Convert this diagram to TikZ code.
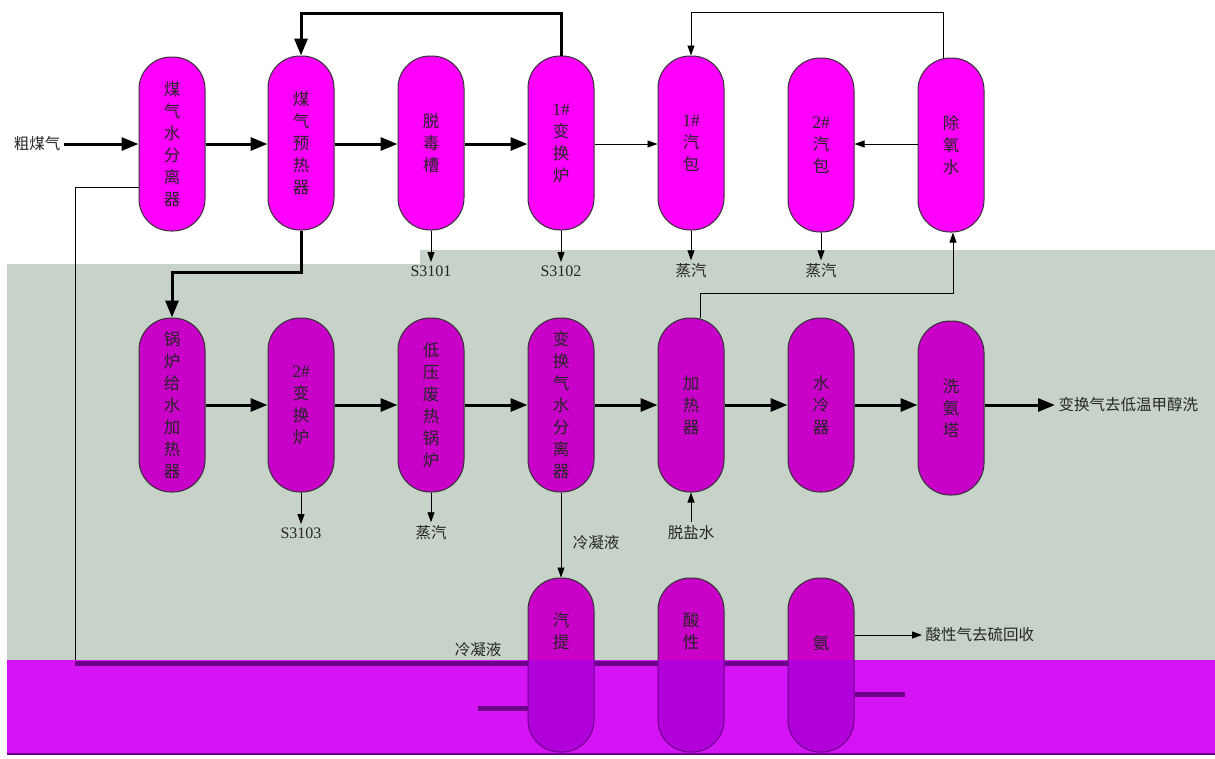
\documentclass[tikz,border=0pt]{standalone}
\usepackage{xcolor}
\usepackage{fontspec}
\setmainfont{Liberation Serif}
\newfontfamily\cjk{Noto Sans CJK SC}
\usepackage{tikz}
\usetikzlibrary{arrows.meta}
\usetikzlibrary{positioning}

\definecolor{hotpink}{HTML}{FF00FF}
\definecolor{deeppink}{HTML}{C800C8}
\definecolor{bandgray}{HTML}{C7D2C8}
\definecolor{bandmag}{HTML}{D414F4}
\definecolor{lowpink}{HTML}{B200DA}
\definecolor{bandline}{HTML}{6C008C}

\newcommand{\nohash}[1]{{\fontsize{17.5}{22}\selectfont\rmfamily #1\#}}

\tikzset{
	vessel/.style={draw=black!80, line width=1pt, rounded corners=32pt, minimum width=66pt, minimum height=174pt, inner sep=0pt, align=center, text=black!85, font=\cjk\fontsize{16.5}{22}\selectfont},
	hot/.style={vessel, fill=hotpink},
	deep/.style={vessel, fill=deeppink},
	flow/.style={line width=3pt, -{Triangle[length=17pt,width=13pt]}},
	feed/.style={line width=0.9pt, -{Triangle[length=10pt,width=7pt]}},
	lbl/.style={text=black!85, font=\cjk\fontsize{15.5}{22}\selectfont, align=center},
	code/.style={text=black!85, font=\fontsize{16}{18}\selectfont},
	bandpipe/.style={draw=bandline, line width=5pt}
}

\begin{document}
\begin{tikzpicture}[x=1pt, y=-1pt]
					\useasboundingbox (0,0) rectangle (1215,758);
					\fill[white] (0,0) rectangle (1215,758);
					\fill[bandgray] (7,264) -- (420,264) -- (420,250) -- (1215,250) -- (1215,660) -- (7,660) -- cycle;
					\node[hot] (sep) at (172,144) {煤\\气\\水\\分\\离\\器};
					\node[hot] (pre) at (301,143) {煤\\气\\预\\热\\器};
					\node[hot] (detox) at (431,143) {脱\\毒\\槽};
					\node[hot] (shiftA) at (561,143) {\nohash{1}\\变\\换\\炉};
					\node[hot] (drumA) at (691,143) {\nohash{1}\\汽\\包};
					\node[hot] (drumB) at (821,145) {\nohash{2}\\汽\\包};
					\node[hot] (deox) at (951,145) {除\\氧\\水};
					\node[deep] (bfw) at (172,405) {锅\\炉\\给\\水\\加\\热\\器};
					\node[deep] (shiftB) at (301,405) {\nohash{2}\\变\\换\\炉};
					\node[deep] (lpboil) at (431,405) {低\\压\\废\\热\\锅\\炉};
					\node[deep] (gsep) at (561,405) {变\\换\\气\\水\\分\\离\\器};
					\node[deep] (heat) at (691,405) {加\\热\\器};
					\node[deep] (cool) at (821,405) {水\\冷\\器};
					\node[deep] (wash) at (951,408) {洗\\氨\\塔};
					\node[deep] (strip) at (561,665) {};
					\node[deep] (acid) at (691,665) {};
					\node[deep] (amm) at (821,665) {};
					\node[lbl, font=\cjk\fontsize{16.5}{22}\selectfont] (stripT) at (561,631) {汽\\提};
					\node[lbl, font=\cjk\fontsize{16.5}{22}\selectfont] (acidT) at (691,631) {酸\\性};
					\node[lbl, font=\cjk\fontsize{16.5}{22}\selectfont] (ammT) at (821,643) {氨};
					\begin{scope}
						\clip (0,660) rectangle (1215,758);
						\fill[bandmag] (7,660) rectangle (1215,755);
						\foreach \v in {strip,acid,amm}
							\node[vessel, fill=lowpink, draw=bandline] at (\v) {};
						\draw[bandline, line width=1.5pt] (7,754) -- (1215,754);
					\end{scope}
					\node[lbl] (raw) at (37,144) {粗煤气};
					\draw[flow] (raw) -- (sep.west |- raw);
					\draw[flow] (sep.east |- 0,144) -- (pre.west |- 0,144);
					\draw[flow] (pre.east |- 0,144) -- (detox.west |- 0,144);
					\draw[flow] (detox.east |- 0,144) -- (shiftA.west |- 0,144);
					\draw[feed] (shiftA.east |- 0,144) -- (drumA.west |- 0,144);
					\draw[feed] (deox.west |- 0,144) -- (drumB.east |- 0,144);
					\draw[flow] (shiftA.north) -- ++(0,-42) -| (pre.north);
					\draw[feed] ([xshift=-8pt]deox.north) -- ++(0,-45) -| (drumA.north);
					\node[code] (sA) at (431,271) {S3101};
					\node[code] (sB) at (561,271) {S3102};
					\node[lbl] (stA) at (691,271) {蒸汽};
					\node[lbl] (stB) at (821,271) {蒸汽};
					\draw[feed] (detox.south) -- (sA);
					\draw[feed] (shiftA.south) -- (sB);
					\draw[feed] (drumA.south) -- (stA);
					\draw[feed] (drumB.south) -- (stB);
					\draw[flow] (pre.south) -- ++(0,42) -| (bfw.north);
					\draw[flow] (bfw.east |- 0,405) -- (shiftB.west |- 0,405);
					\draw[flow] (shiftB.east |- 0,405) -- (lpboil.west |- 0,405);
					\draw[flow] (lpboil.east |- 0,405) -- (gsep.west |- 0,405);
					\draw[flow] (gsep.east |- 0,405) -- (heat.west |- 0,405);
					\draw[flow] (heat.east |- 0,405) -- (cool.west |- 0,405);
					\draw[flow] (cool.east |- 0,405) -- (wash.west |- 0,405);
					\node[lbl, anchor=west] (tomeoh) at (1055,405) {变换气去低温甲醇洗};
					\draw[flow] (wash.east |- 0,405) -- (tomeoh.west);
					\node[code] (sC) at (301,533) {S3103};
					\node[lbl] (stC) at (431,533) {蒸汽};
					\node[lbl] (demin) at (691,533) {脱盐水};
					\node[lbl] (condA) at (596,543) {冷凝液};
					\draw[feed] (shiftB.south) -- (sC);
					\draw[feed] (lpboil.south) -- (stC);
					\draw[feed] (demin) -- (heat.south);
					\draw[feed] (gsep.south) -- (strip.north);
					\draw[feed] ([xshift=9pt]heat.north) -- ++(0,-24) -| ([xshift=2pt]deox.south);
					\coordinate (cond) at (75,663);
					\draw[line width=0.9pt] ([yshift=-43pt]sep.west) -| ([yshift=3pt]cond);
					\node[lbl] (condB) at (478,650) {冷凝液};
					\draw[bandpipe] (cond) -- (cond -| strip.west);
					\draw[bandpipe] (strip.east |- cond) -- (acid.west |- cond);
					\draw[bandpipe] (acid.east |- cond) -- (amm.west |- cond);
					\coordinate (inL) at (478,708);
					\draw[bandpipe] (inL) -- (strip.west |- inL);
					\coordinate (outR) at (905,694);
					\draw[bandpipe] (amm.east |- outR) -- (outR);
					\node[lbl, anchor=west] (sour) at (922,635) {酸性气去硫回收};
					\draw[feed] ([yshift=30pt]amm.east) -- (sour.west);
				\end{tikzpicture}
\end{document}
